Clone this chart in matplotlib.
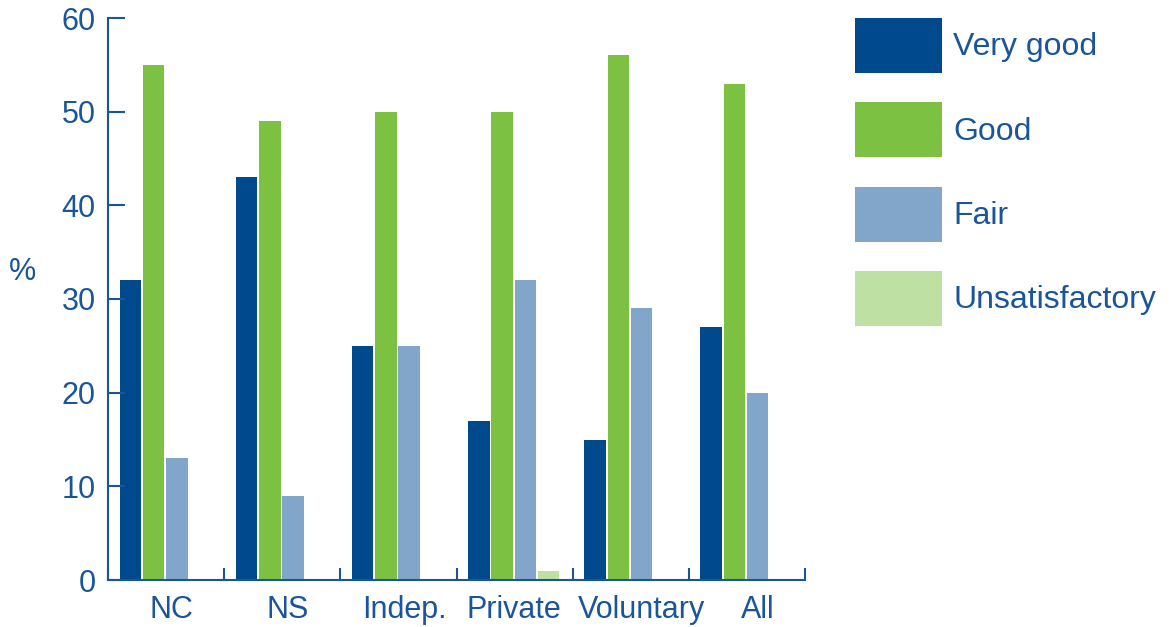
import matplotlib
matplotlib.use("Agg")
import matplotlib.pyplot as plt
from matplotlib.patches import Patch
import numpy as np

categories = ["NC", "NS", "Indep.", "Private", "Voluntary", "All"]
series_names = ["Very good", "Good", "Fair", "Unsatisfactory"]
very_good = [32, 43, 25, 17, 15, 27]
good = [55, 49, 50, 50, 56, 53]
fair = [13, 9, 25, 32, 29, 20]
unsatisfactory = [0, 0, 0, 1, 0, 0]
colors = ["#00498D", "#7DC142", "#82A6C9", "#BEE0A2"]
text_color = "#1A559A"

plt.rcParams['font.family'] = ['Liberation Sans', 'DejaVu Sans']

fig = plt.figure(figsize=(11.72, 6.27), dpi=100)
ax = fig.add_axes([108/1172, 1-580/627, (805-108)/1172, (580-18)/627])

x = np.arange(len(categories))
width = 0.185
offsets = [0.1, 0.3, 0.5, 0.7]
for vals, off, col in zip([very_good, good, fair, unsatisfactory], offsets, colors):
    ax.bar(x + off, vals, width=width, align='edge', color=col, linewidth=0)

label_pos = x + np.array([0.55, 0.55, 0.55, 0.49, 0.595, 0.595])

ax.set_xlim(0, len(categories))
ax.set_ylim(0, 60)
ax.set_yticks(range(0, 61, 10))
ax.set_xticks(np.arange(len(categories) + 1))
ax.set_xticklabels([])
ax.set_xticks(label_pos, minor=True)
ax.set_xticklabels(categories, minor=True)
ax.tick_params(axis='x', which='major', direction='in', length=9, width=1.5, color=text_color)
ax.tick_params(axis='x', which='minor', length=0, labelsize=22, labelcolor=text_color, pad=11)
ax.tick_params(axis='y', direction='in', length=12, width=1.5, color=text_color,
               labelsize=22, labelcolor=text_color, pad=9)

for s in ['top', 'right']:
    ax.spines[s].set_visible(False)
for s in ['left', 'bottom']:
    ax.spines[s].set_color(text_color)
    ax.spines[s].set_linewidth(1.5)

fig.text(22/1172, 1-272/627, "%", fontsize=22, color=text_color, ha='center', va='center')

handles = [Patch(facecolor=c, edgecolor='none') for c in colors]
leg = fig.legend(handles, series_names, loc='upper left',
                 bbox_to_anchor=(855/1172, 1-18/627), borderaxespad=0, borderpad=0,
                 frameon=False, fontsize=23, handlelength=2.72, handleheight=2.27,
                 labelspacing=0.92, handletextpad=0.35)
for t in leg.get_texts():
    t.set_color(text_color)

fig.savefig("out.png", dpi=100)
